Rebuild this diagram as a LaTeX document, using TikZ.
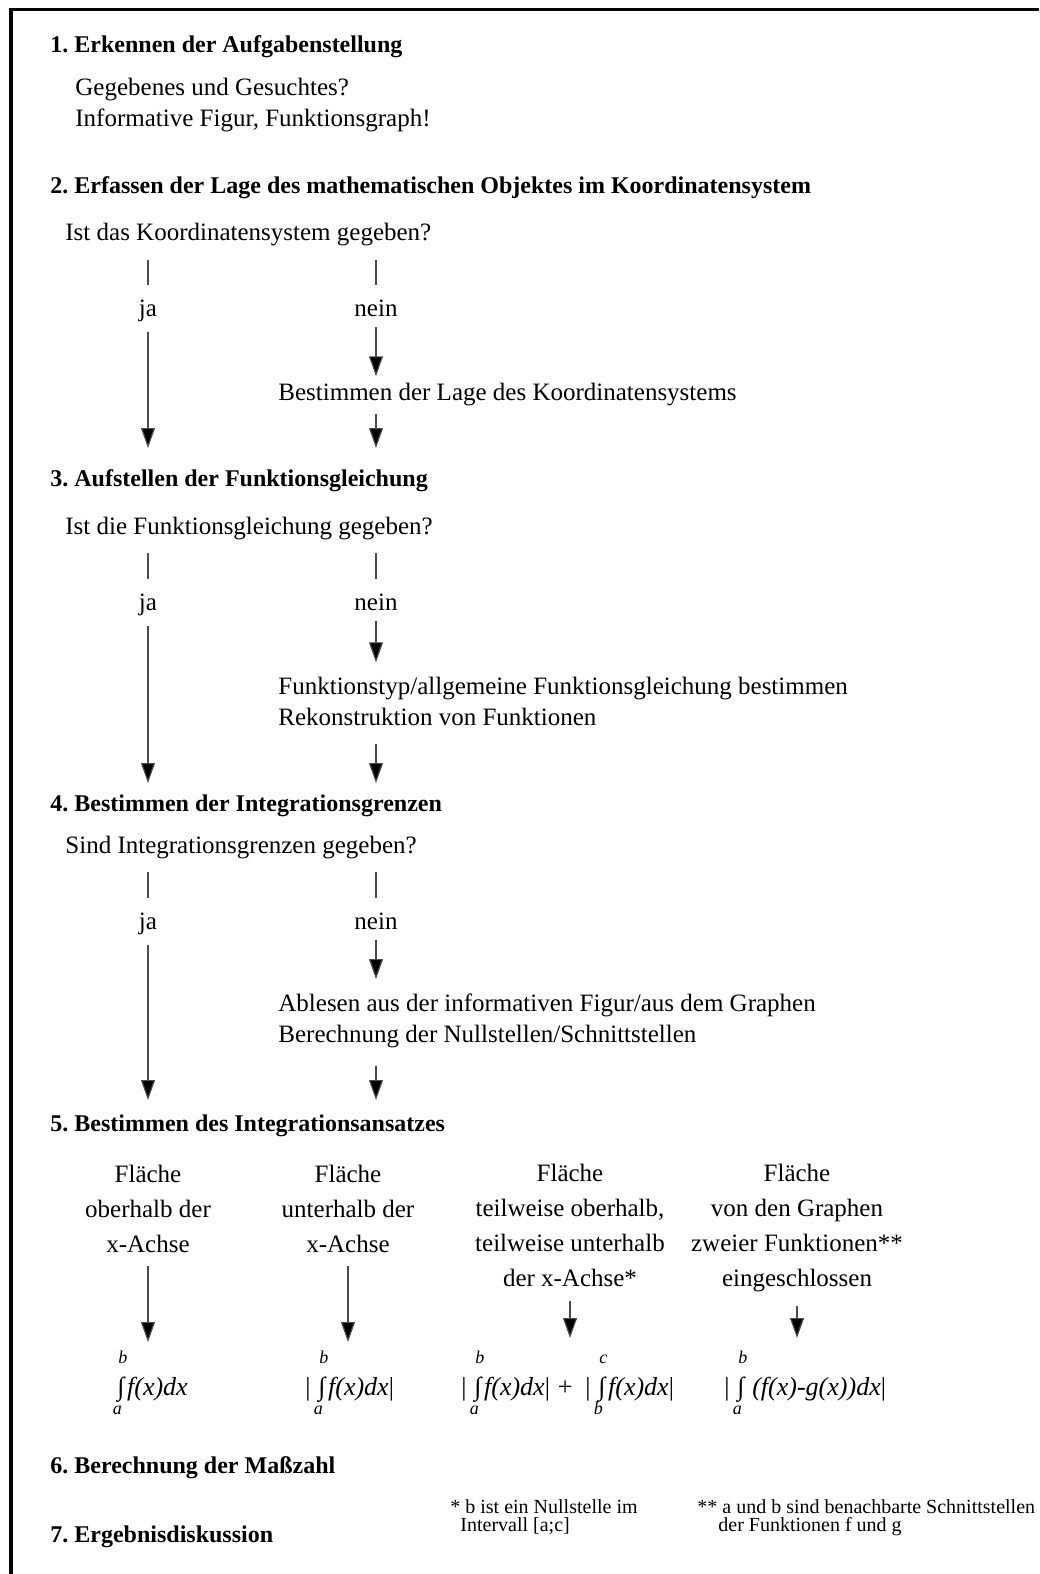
\documentclass[tikz,border=0pt]{standalone}
\usepackage{fontspec}
\setmainfont{Liberation Serif}
\usetikzlibrary{arrows.meta}
\frenchspacing

% Integral mit Grenzen
\newcommand{\intgr}[2]{%
  \rlap{\raisebox{1.2em}{\fontsize{9}{9}\selectfont\itshape\hspace{0.05em}#2}}%
  \rlap{\raisebox{-0.75em}{\fontsize{9}{9}\selectfont\itshape\hspace{-0.25em}#1}}%
  ∫\hspace{0.1em}}

\begin{document}
\begin{tikzpicture}[x=0.5pt,y=-0.5pt,
    ueber/.style={anchor=base west,inner sep=0pt,font=\fontsize{12}{15.5}\selectfont\bfseries},
    zeile/.style={anchor=base west,inner sep=0pt,align=left,font=\fontsize{12.5}{15.5}\selectfont},
    wahl/.style={anchor=base,inner sep=0pt,font=\fontsize{12.5}{15.5}\selectfont},
    spalte/.style={anchor=base,inner sep=0pt,align=center,font=\fontsize{12.5}{17.5}\selectfont},
    formel/.style={anchor=base west,inner sep=0pt,font=\fontsize{13}{15.5}\selectfont},
    fussnote/.style={anchor=base west,inner sep=0pt,align=left,font=\fontsize{10}{9}\selectfont},
    strich/.style={draw=black!70,line width=0.6pt},
    pfeil/.style={strich,-{Triangle[length=10pt,width=7pt,fill=black]}}]
    \useasboundingbox (0,0) rectangle (1039,1574);

    % Rahmen
    \draw[line width=1.8pt] (11,1574) -- (11,9.5) -- (1039,9.5);

    % 1. (mehrzeilige Knoten: base = letzte Zeile)
    \node[ueber] (h1) at (50,53) {1. Erkennen der Aufgabenstellung};
    \node[zeile] (z1) at (75,126) {Gegebenes und Gesuchtes?\\Informative Figur, Funktionsgraph!};

    % 2.
    \node[ueber] (h2) at (50,193) {2. Erfassen der Lage des mathematischen Objektes im Koordinatensystem};
    \node[zeile] (q2) at (65,240) {Ist das Koordinatensystem gegeben?};
    \node[wahl] (ja2) at (148,316) {ja};
    \node[wahl] (nein2) at (376,316) {nein};
    \node[zeile] (b2) at (278,400) {Bestimmen der Lage des Koordinatensystems};
    \coordinate (ja2o) at (148,260);
    \coordinate (nein2o) at (376,260);
    \coordinate (ja2u) at (148,448);
    \coordinate (nein2u) at (376,448);
    \draw[strich] (ja2o) -- ([yshift=7pt]ja2.north);
    \draw[pfeil] ([yshift=-5pt]ja2.south) -- (ja2u);
    \draw[strich] (nein2o) -- ([yshift=7pt]nein2.north);
    \draw[pfeil] ([yshift=-5pt]nein2.south) -- ([yshift=3pt]b2.north -| nein2);
    \draw[pfeil] ([yshift=-4pt]b2.south -| nein2) -- (nein2u);

    % 3.
    \node[ueber] (h3) at (50,486) {3. Aufstellen der Funktionsgleichung};
    \node[zeile] (q3) at (65,534) {Ist die Funktionsgleichung gegeben?};
    \node[wahl] (ja3) at (148,610) {ja};
    \node[wahl] (nein3) at (376,610) {nein};
    \node[zeile] (b3) at (278,725) {Funktionstyp/allgemeine Funktionsgleichung bestimmen\\Rekonstruktion von Funktionen};
    \coordinate (ja3o) at (148,553);
    \coordinate (nein3o) at (376,553);
    \coordinate (ja3u) at (148,783);
    \coordinate (nein3u) at (376,783);
    \draw[strich] (ja3o) -- ([yshift=7pt]ja3.north);
    \draw[pfeil] ([yshift=-5pt]ja3.south) -- (ja3u);
    \draw[strich] (nein3o) -- ([yshift=7pt]nein3.north);
    \draw[pfeil] ([yshift=-5pt]nein3.south) -- ([yshift=7pt]b3.north -| nein3);
    \draw[pfeil] ([yshift=-9pt]b3.south -| nein3) -- (nein3u);

    % 4.
    \node[ueber] (h4) at (50,811) {4. Bestimmen der Integrationsgrenzen};
    \node[zeile] (q4) at (65,853) {Sind Integrationsgrenzen gegeben?};
    \node[wahl] (ja4) at (148,929) {ja};
    \node[wahl] (nein4) at (376,929) {nein};
    \node[zeile] (b4) at (278,1042) {Ablesen aus der informativen Figur/aus dem Graphen\\Berechnung der Nullstellen/Schnittstellen};
    \coordinate (ja4o) at (148,872);
    \coordinate (nein4o) at (376,872);
    \coordinate (ja4u) at (148,1100);
    \coordinate (nein4u) at (376,1100);
    \draw[strich] (ja4o) -- ([yshift=7pt]ja4.north);
    \draw[pfeil] ([yshift=-5pt]ja4.south) -- (ja4u);
    \draw[strich] (nein4o) -- ([yshift=7pt]nein4.north);
    \draw[pfeil] ([yshift=-5pt]nein4.south) -- ([yshift=7pt]b4.north -| nein4);
    \draw[pfeil] ([yshift=-9pt]b4.south -| nein4) -- (nein4u);

    % 5.
    \node[ueber] (h5) at (50,1131) {5. Bestimmen des Integrationsansatzes};
    \node[spalte] (s1) at (148,1252) {Fläche\\oberhalb der\\x-Achse};
    \node[spalte] (s2) at (348,1252) {Fläche\\unterhalb der\\x-Achse};
    \node[spalte] (s3) at (570,1286) {Fläche\\teilweise oberhalb,\\teilweise unterhalb\\der x-Achse*};
    \node[spalte] (s4) at (797,1286) {Fläche\\von den Graphen\\zweier Funktionen**\\eingeschlossen};
    \node[formel] (f1) at (117,1395) {\intgr{a}{b}\textit{f(x)dx}};
    \node[formel] (f2) at (305,1395) {|\hspace{0.3em}\intgr{a}{b}\textit{f(x)dx}|};
    \node[formel] (f3) at (461,1395) {|\hspace{0.3em}\intgr{a}{b}\textit{f(x)dx}|\hspace{0.3em}+\hspace{0.5em}|\hspace{0.3em}\intgr{b}{c}\textit{f(x)dx}|};
    \node[formel] (f4) at (724,1395) {|\hspace{0.3em}\intgr{a}{b}\hspace{0.2em}\textit{(f(x)-g(x))dx}|};
    \coordinate (f1o) at (148,1342);
    \coordinate (f2o) at (348,1342);
    \coordinate (f3o) at (570,1338);
    \coordinate (f4o) at (797,1338);
    \draw[pfeil] ([yshift=-6.5pt]s1.south) -- (f1o);
    \draw[pfeil] ([yshift=-6.5pt]s2.south) -- (f2o);
    \draw[pfeil] ([yshift=-7pt]s3.south) -- (f3o);
    \draw[pfeil] ([yshift=-7pt]s4.south) -- (f4o);

    % 6. und 7.
    \node[ueber] (h6) at (50,1473) {6. Berechnung der Maßzahl};
    \node[ueber] (h7) at (50,1542) {7. Ergebnisdiskussion};
    \node[fussnote] (n1) at (450,1531) {* b ist ein Nullstelle im\\\hspace{0.5em}Intervall [a;c]};
    \node[fussnote] (n2) at (697,1531) {** a und b sind benachbarte Schnittstellen\\\hspace{1.05em}der Funktionen f und g};
\end{tikzpicture}
\end{document}
